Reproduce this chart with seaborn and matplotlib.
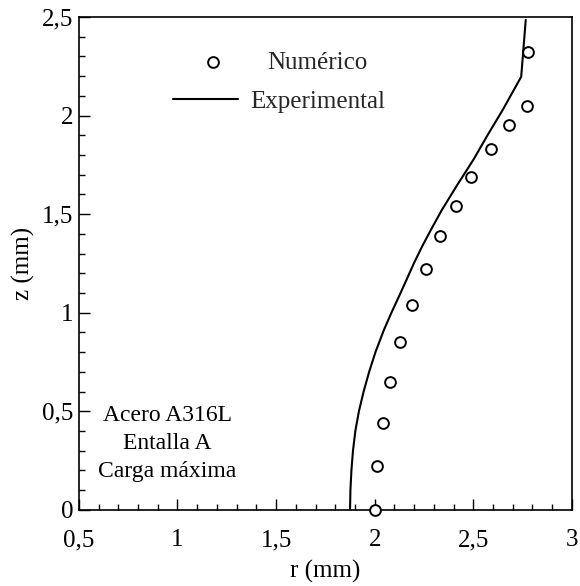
import numpy as np
import pandas as pd
import matplotlib
matplotlib.use("Agg")
import matplotlib.pyplot as plt
import seaborn as sns
from matplotlib.ticker import MultipleLocator, FixedLocator, FixedFormatter

# Data
num_r = [2.00, 2.01, 2.04, 2.08, 2.13, 2.19, 2.26, 2.33, 2.41, 2.49, 2.59, 2.68, 2.77, 2.78]
num_z = [0.00, 0.22, 0.44, 0.65, 0.85, 1.04, 1.22, 1.39, 1.54, 1.69, 1.83, 1.95, 2.05, 2.32]

exp_r = [1.875, 1.877, 1.882, 1.890, 1.902, 1.920, 1.944, 1.972, 2.004, 2.047, 2.085,
         2.123, 2.161, 2.199, 2.240, 2.285, 2.340, 2.420, 2.500, 2.572, 2.650, 2.743, 2.766]
exp_z = [0.00, 0.10, 0.20, 0.30, 0.40, 0.50, 0.60, 0.70, 0.80, 0.913, 1.00,
         1.082, 1.166, 1.251, 1.335, 1.42, 1.52, 1.65, 1.775, 1.90, 2.03, 2.197, 2.485]

x_ticks = [0.5, 1.0, 1.5, 2.0, 2.5, 3.0]
x_tick_labels = ["0,5", "1", "1,5", "2", "2,5", "3"]
y_ticks = [0.0, 0.5, 1.0, 1.5, 2.0, 2.5]
y_tick_labels = ["0", "0,5", "1", "1,5", "2", "2,5"]

series_labels = ["Numérico", "Experimental"]
note_lines = ["Acero A316L", "Entalla A", "Carga máxima"]

sns.set_theme(style="white")
plt.rcParams["font.family"] = ["Liberation Serif", "DejaVu Serif"]

fig = plt.figure(figsize=(5.8, 5.86), dpi=100)
ax = fig.add_axes([0.136, 0.130, 0.850, 0.841])

df_num = pd.DataFrame({"r": num_r, "z": num_z})
df_exp = pd.DataFrame({"r": exp_r, "z": exp_z})

sns.lineplot(data=df_exp, x="r", y="z", sort=False, estimator=None, ax=ax,
             color="black", linewidth=1.5, label=series_labels[1], zorder=2)
sns.scatterplot(data=df_num, x="r", y="z", ax=ax, marker="o", s=60,
                facecolor="white", edgecolor="black", linewidth=1.4,
                label=series_labels[0], zorder=3, clip_on=False)

ax.set_xlim(0.5, 3.0)
ax.set_ylim(0.0, 2.5)

ax.xaxis.set_major_locator(FixedLocator(x_ticks))
ax.xaxis.set_major_formatter(FixedFormatter(x_tick_labels))
ax.yaxis.set_major_locator(FixedLocator(y_ticks))
ax.yaxis.set_major_formatter(FixedFormatter(y_tick_labels))
ax.xaxis.set_minor_locator(MultipleLocator(0.1))
ax.yaxis.set_minor_locator(MultipleLocator(0.1))
ax.tick_params(which="both", direction="in", bottom=True, left=True,
               top=False, right=False, colors="black", labelsize=18)
ax.tick_params(which="major", length=8, width=1.0)
ax.tick_params(which="minor", length=4, width=1.0)
ax.tick_params(axis="x", which="major", pad=14)
ax.tick_params(axis="y", which="major", pad=4)

for s in ax.spines.values():
    s.set_color("black")
    s.set_linewidth(1.2)

ax.set_xlabel("r (mm)", fontsize=18, labelpad=6, color="black")
ax.set_ylabel("z (mm)", fontsize=18, labelpad=5, color="black")

handles, labels = ax.get_legend_handles_labels()
h_num = handles[labels.index(series_labels[0])]
h_exp = handles[labels.index(series_labels[1])]
if ax.legend_ is not None:
    ax.legend_.remove()

leg1 = ax.legend([h_num], [series_labels[0]], loc="center left",
                 bbox_to_anchor=(0.19, 0.908), frameon=False, fontsize=18,
                 handlelength=3.2, handletextpad=0.6, borderpad=0, borderaxespad=0)
ax.add_artist(leg1)
leg2 = ax.legend([h_exp], [series_labels[1]], loc="center left",
                 bbox_to_anchor=(0.19, 0.828), frameon=False, fontsize=18,
                 handlelength=2.6, handletextpad=0.52, borderpad=0, borderaxespad=0)

ax.text(0.18, 0.134, "\n".join(note_lines), transform=ax.transAxes,
        ha="center", va="center", fontsize=17, linespacing=1.43, color="black")

fig.savefig("out.png", dpi=100)
